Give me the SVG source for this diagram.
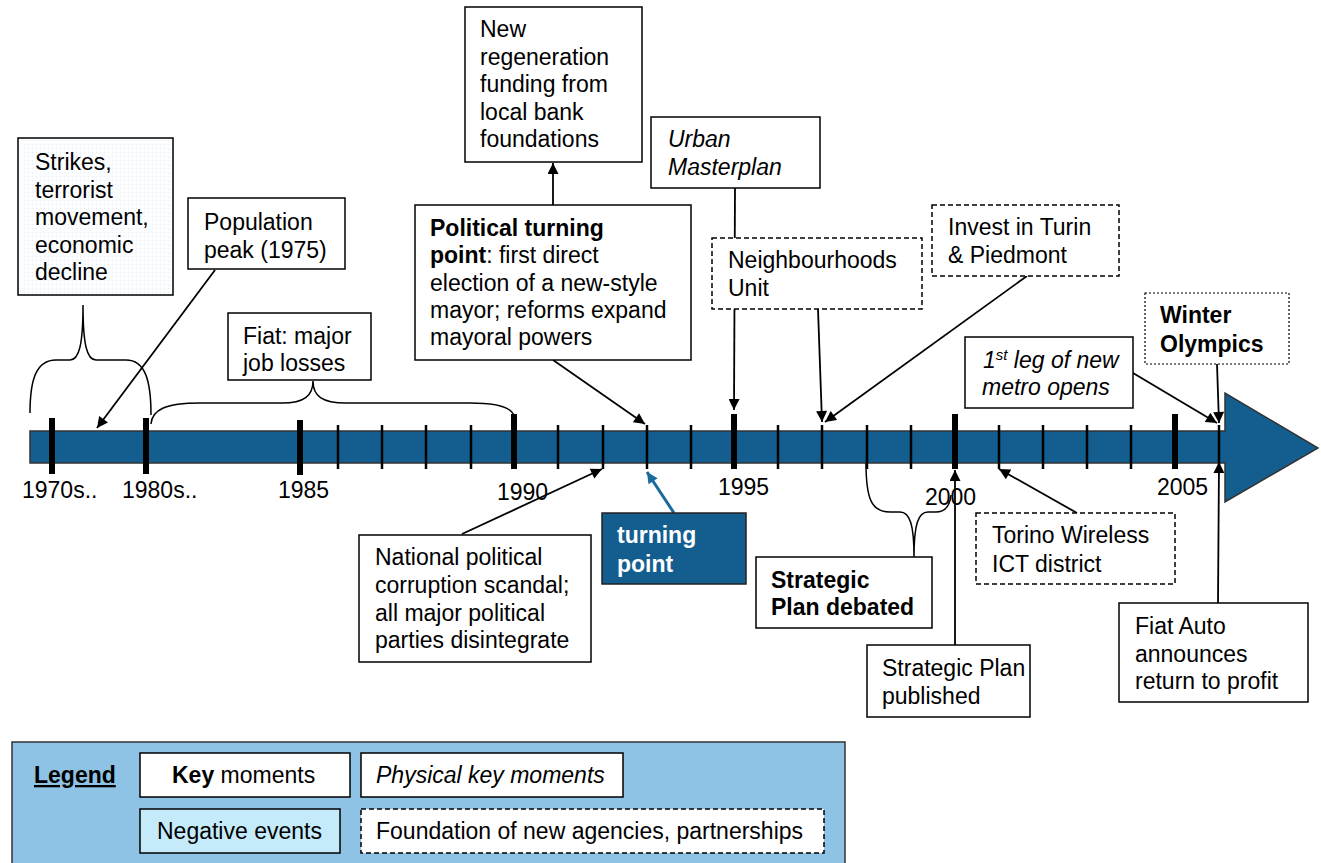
<svg xmlns="http://www.w3.org/2000/svg" width="1321" height="863" viewBox="0 0 1321 863">
<style>
text{font-family:"Liberation Sans",Arial,sans-serif;font-size:23px;fill:#000}
.b{font-weight:bold}
.i{font-style:italic}
.box{fill:#fff;stroke:#000;stroke-width:1.5}
.dash{fill:#fff;stroke:#000;stroke-width:1.5;stroke-dasharray:5 3}
.dot{fill:#fff;stroke:#000;stroke-width:1.2;stroke-dasharray:2 2}
.tk{stroke:#000;stroke-width:2.5}
.TK{stroke:#000;stroke-width:6}
.con{stroke:#000;stroke-width:1.8;fill:none}
.arr{marker-end:url(#ah)}
.br{stroke:#000;stroke-width:1.5;fill:none}
.yr{font-size:23px}
</style>
<defs>
<marker id="ah" viewBox="0 0 10 10" refX="10" refY="5" markerWidth="13" markerHeight="11" markerUnits="userSpaceOnUse" orient="auto"><path d="M0,0 L10,5 L0,10 z" fill="#000"/></marker>
<marker id="ahb" viewBox="0 0 10 10" refX="10" refY="5" markerWidth="13" markerHeight="11" markerUnits="userSpaceOnUse" orient="auto"><path d="M0,0 L10,5 L0,10 z" fill="#1b6a9d"/></marker>
<pattern id="dots" width="4" height="4" patternUnits="userSpaceOnUse"><rect width="4" height="4" fill="#fcfdfe"/><rect width="1" height="1" fill="#e6edf2"/></pattern>
</defs>

<g id="timeline">
<path d="M30,431 L1225,431 L1225,393 L1318,448 L1225,502 L1225,463 L30,463 Z" fill="#135e8f" stroke="#333" stroke-width="1.5"/>
<g>
<line class="TK" x1="52" y1="418" x2="52" y2="474"/>
<line class="TK" x1="146" y1="418" x2="146" y2="474"/>
<line class="TK" x1="300" y1="420" x2="300" y2="475"/>
<line class="TK" x1="514" y1="414" x2="514" y2="469"/>
<line class="TK" x1="734" y1="414" x2="734" y2="469"/>
<line class="TK" x1="955" y1="414" x2="955" y2="469"/>
<line class="TK" x1="1175" y1="414" x2="1175" y2="469"/>
<line class="tk" x1="338" y1="425" x2="338" y2="469"/>
<line class="tk" x1="382" y1="425" x2="382" y2="469"/>
<line class="tk" x1="426" y1="425" x2="426" y2="469"/>
<line class="tk" x1="471" y1="425" x2="471" y2="469"/>
<line class="tk" x1="558" y1="425" x2="558" y2="469"/>
<line class="tk" x1="603" y1="425" x2="603" y2="469"/>
<line class="tk" x1="647" y1="425" x2="647" y2="469"/>
<line class="tk" x1="691" y1="425" x2="691" y2="469"/>
<line class="tk" x1="778" y1="425" x2="778" y2="469"/>
<line class="tk" x1="822" y1="425" x2="822" y2="469"/>
<line class="tk" x1="867" y1="425" x2="867" y2="469"/>
<line class="tk" x1="911" y1="425" x2="911" y2="469"/>
<line class="tk" x1="999" y1="425" x2="999" y2="469"/>
<line class="tk" x1="1043" y1="425" x2="1043" y2="469"/>
<line class="tk" x1="1087" y1="425" x2="1087" y2="469"/>
<line class="tk" x1="1131" y1="425" x2="1131" y2="469"/>
<line class="tk" x1="1219" y1="425" x2="1219" y2="469"/>
</g>
<text class="yr" x="22" y="498">1970s..</text>
<text class="yr" x="122" y="498">1980s..</text>
<text class="yr" x="278" y="498">1985</text>
<text class="yr" x="497" y="500">1990</text>
<text class="yr" x="718" y="495">1995</text>
<text class="yr" x="925" y="505">2000</text>
<text class="yr" x="1157" y="495">2005</text>
</g>

<g id="connectors">
<line class="con arr" x1="215" y1="270" x2="97" y2="428"/>
<line class="con arr" x1="553" y1="205" x2="553" y2="163"/>
<line class="con arr" x1="553" y1="360" x2="645" y2="424"/>
<line class="con arr" x1="735" y1="188" x2="734" y2="410"/>
<line class="con arr" x1="818" y1="309" x2="822" y2="422"/>
<line class="con arr" x1="1027" y1="276" x2="825" y2="422"/>
<line class="con arr" x1="1133" y1="373" x2="1217" y2="423"/>
<line class="con arr" x1="1217" y1="364" x2="1219" y2="423"/>
<line class="con arr" x1="462" y1="534" x2="602" y2="469"/>
<line x1="674" y1="513" x2="647" y2="472" stroke="#1b6a9d" stroke-width="3" marker-end="url(#ahb)"/>
<line class="con arr" x1="955" y1="645" x2="955" y2="470"/>
<line class="con arr" x1="1077" y1="513" x2="999" y2="469"/>
<line class="con arr" x1="1218" y1="603" x2="1219" y2="462"/>
<path class="br" d="M30,413 C30,380 36,360 56,360 L70,360 C79,360 83,345 83,305 C83,345 87,360 96,360 L126,360 C145,360 151,380 151,415"/>
<path class="br" d="M151,424 C152,410 165,403 200,403 L282,403 C304,403 313,396 313,381 C313,396 322,403 346,403 L470,403 C500,403 512,408 514,416"/>
<path class="br" d="M866,463 C866,500 872,512 890,512 L900,512 C910,512 914,525 914,557 C914,525 918,512 928,512 L936,512 C946,512 950,505 951,495"/>
</g>

<g id="strikes"><rect x="18" y="138" width="155" height="157" fill="url(#dots)" stroke="#000" stroke-width="1.5"/>
<text x="35" y="170">Strikes,</text><text x="35" y="197.5">terrorist</text><text x="35" y="225">movement,</text><text x="35" y="252.5">economic</text><text x="35" y="280">decline</text></g>

<g id="population"><rect class="box" x="188" y="198" width="157" height="71"/>
<text x="204" y="230">Population</text><text x="204" y="258">peak (1975)</text></g>

<g id="fiat-jobs"><rect class="box" x="228" y="313" width="143" height="67"/>
<text x="243" y="344">Fiat: major</text><text x="243" y="371">job losses</text></g>

<g id="regeneration"><rect class="box" x="465" y="7" width="177" height="155"/>
<text x="480" y="37">New</text><text x="480" y="65">regeneration</text><text x="480" y="92">funding from</text><text x="480" y="120">local bank</text><text x="480" y="147">foundations</text></g>

<g id="political"><rect class="box" x="415" y="205" width="276" height="155"/>
<text x="430" y="236"><tspan class="b">Political turning</tspan></text>
<text x="430" y="263"><tspan class="b">point</tspan>: first direct</text>
<text x="430" y="291">election of a new-style</text>
<text x="430" y="318">mayor; reforms expand</text>
<text x="430" y="345">mayoral powers</text></g>

<g id="masterplan"><rect class="box" x="651" y="117" width="169" height="71"/>
<text class="i" x="668" y="147">Urban</text><text class="i" x="668" y="175">Masterplan</text></g>

<g id="neighbourhoods"><rect class="dash" x="712" y="238" width="210" height="71"/>
<text x="728" y="268">Neighbourhoods</text><text x="728" y="296">Unit</text></g>

<g id="invest"><rect class="dash" x="932" y="205" width="187" height="71"/>
<text x="948" y="235">Invest in Turin</text><text x="948" y="263">&amp; Piedmont</text></g>

<g id="metro"><rect class="box" x="965" y="337" width="168" height="71"/>
<text class="i" x="983" y="368">1<tspan font-size="15" dy="-8">st</tspan><tspan dy="8"> leg of new</tspan></text>
<text class="i" x="982" y="395">metro opens</text></g>

<g id="olympics"><rect class="dot" x="1145" y="293" width="144" height="71"/>
<text class="b" x="1160" y="323">Winter</text><text class="b" x="1160" y="352">Olympics</text></g>

<g id="scandal"><rect class="box" x="359" y="535" width="232" height="127"/>
<text x="375" y="565">National political</text><text x="375" y="593">corruption scandal;</text><text x="375" y="621">all major political</text><text x="375" y="648">parties disintegrate</text></g>

<g id="turning"><rect x="602" y="513" width="144" height="71" fill="#135e8f" stroke="#222" stroke-width="1.5"/>
<text class="b" x="617" y="543" style="fill:#fff">turning</text><text class="b" x="617" y="572" style="fill:#fff">point</text></g>

<g id="debated"><rect class="box" x="756" y="557" width="176" height="71"/>
<text class="b" x="771" y="588">Strategic</text><text class="b" x="771" y="615">Plan debated</text></g>

<g id="published"><rect class="box" x="867" y="645" width="163" height="72"/>
<text x="882" y="676">Strategic Plan</text><text x="882" y="704">published</text></g>

<g id="torino"><rect class="dash" x="976" y="513" width="199" height="71"/>
<text x="992" y="543">Torino Wireless</text><text x="992" y="572">ICT district</text></g>

<g id="fiatauto"><rect class="box" x="1119" y="603" width="189" height="99"/>
<text x="1135" y="634">Fiat Auto</text><text x="1135" y="662">announces</text><text x="1135" y="689">return to profit</text></g>

<g id="legend">
<rect x="12" y="742" width="833" height="130" fill="#8ec3e5" stroke="#333" stroke-width="1.5"/>
<text class="b" x="34" y="783" text-decoration="underline">Legend</text>
<rect class="box" x="140" y="753" width="210" height="44"/>
<text x="172" y="783"><tspan class="b">Key</tspan> moments</text>
<rect class="box" x="361" y="753" width="262" height="44"/>
<text class="i" x="376" y="783">Physical key moments</text>
<rect x="140" y="809" width="200" height="44" fill="#c5ebfb" stroke="#000" stroke-width="1.5"/>
<text x="157" y="839">Negative events</text>
<rect class="dash" x="361" y="809" width="463" height="44"/>
<text x="376" y="839">Foundation of new agencies, partnerships</text>
</g>
</svg>
